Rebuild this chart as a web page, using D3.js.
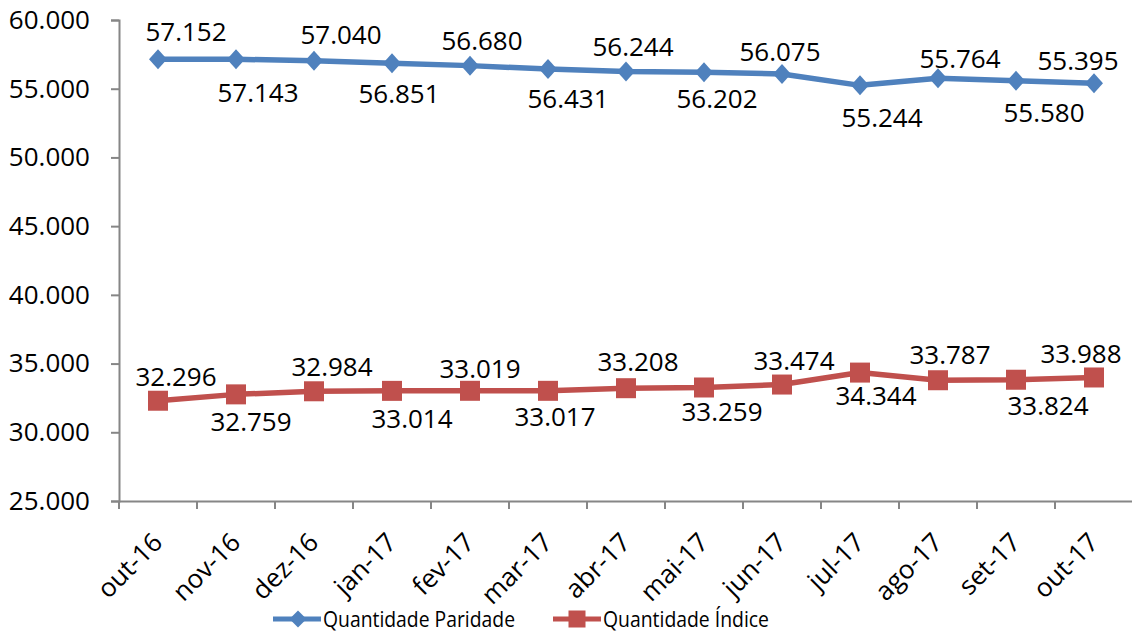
<!DOCTYPE html>
<html><head><meta charset="utf-8">
<script src="https://cdn.jsdelivr.net/npm/d3@7"></script>
<style>body{margin:0;background:#fff}svg{display:block}text{font-family:"Open Sans",sans-serif}</style>
</head><body>
<svg id="c" width="1132" height="636"></svg>
<script>
const categories = ["out-16","nov-16","dez-16","jan-17","fev-17","mar-17","abr-17","mai-17","jun-17","jul-17","ago-17","set-17","out-17"];
const paridade = [57152,57143,57040,56851,56680,56431,56244,56202,56075,55244,55764,55580,55395];
const indice = [32296,32759,32984,33014,33019,33017,33208,33259,33474,34344,33787,33824,33988];
const yTicks = [25000,30000,35000,40000,45000,50000,55000,60000];
const seriesNames = ["Quantidade Paridade","Quantidade Índice"];
const colors = ["#4F81BD","#C0504D"];

// layout: data label offsets (px) from each point, as placed in the original
const labelLayout = [
  {dx:[28,22,27,7,12,20,7,13,-2,22,22,28,-16], dy:[-18,43,-17,40,-16,39,-16,36,-13,42,-10,41,-13]},
  {dx:[18,15,18,20,10,7,12,18,12,16,12,32,-13], dy:[-15,37,-15,37,-13,35,-17,34,-15,32,-16,35,-14]}
];

const loc = d3.formatLocale({decimal:",",thousands:".",grouping:[3],currency:["R$",""]});
const fmt = loc.format(",.0f");

const svg = d3.select("#c");
const x = d3.scaleBand().domain(categories).range([119,1133]).padding(0);
const y = d3.scaleLinear().domain([25000,60000]).range([501,20]);
const axisColor = "#868686";
const fs = 26;

// y axis
const ya = svg.append("g").attr("transform","translate(119,0)")
  .call(d3.axisLeft(y).tickValues(yTicks).tickFormat(fmt).tickSize(8).tickPadding(21));
ya.select(".domain").attr("stroke",axisColor).attr("stroke-width",2);
ya.selectAll(".tick line").attr("stroke",axisColor).attr("stroke-width",2);
ya.selectAll(".tick text").attr("font-size",fs).attr("fill","#000").attr("font-family","Open Sans");

// x axis
const xa = svg.append("g").attr("transform","translate(0,501)")
  .call(d3.axisBottom(x).tickSize(0).tickFormat(d=>d));
xa.select(".domain").attr("stroke",axisColor).attr("stroke-width",2);
xa.selectAll(".tick line").remove();
xa.selectAll(".tick text").attr("font-size",fs).attr("fill","#000").attr("font-family","Open Sans")
  .attr("text-anchor","end").attr("dy",0).attr("y",0)
  .attr("transform","translate(6,43) rotate(-45)");
// x band boundary ticks
const bounds = categories.map(c=>x(c)).concat([x.range()[1]]);
svg.append("g").selectAll("line").data(bounds).join("line")
  .attr("x1",d=>d).attr("x2",d=>d).attr("y1",501).attr("y2",509)
  .attr("stroke",axisColor).attr("stroke-width",2);

const cx = c => x(c) + x.bandwidth()/2;
const data = [paridade, indice];

function diamond(g, px, py, col, w, h){
  g.append("path").attr("d",`M${px},${py-h}L${px+w},${py}L${px},${py+h}L${px-w},${py}Z`).attr("fill",col);
}
function square(g, px, py, col, s){
  g.append("rect").attr("x",px-s).attr("y",py-s).attr("width",2*s).attr("height",2*s).attr("fill",col);
}

data.forEach((vals,si)=>{
  const g = svg.append("g");
  const line = d3.line().x((d,i)=>cx(categories[i])).y(d=>y(d));
  g.append("path").datum(vals).attr("d",line).attr("fill","none")
    .attr("stroke",colors[si]).attr("stroke-width",5.5).attr("stroke-linejoin","round");
  vals.forEach((v,i)=>{
    const px = cx(categories[i]), py = y(v);
    if(si===0) diamond(g,px,py,colors[si],9,10); else square(g,px,py,colors[si],10);
  });
  const L = labelLayout[si];
  g.selectAll("text").data(vals).join("text")
    .attr("x",(d,i)=>cx(categories[i]) + L.dx[i])
    .attr("y",(d,i)=>y(d) + L.dy[i])
    .attr("text-anchor","middle").attr("font-size",fs).attr("fill","#000")
    .text(d=>fmt(d));
});

// legend
const lg = svg.append("g");
const legendItems = [{x:273,name:seriesNames[0],col:colors[0],m:"d",w:192},{x:553,name:seriesNames[1],col:colors[1],m:"s",w:166}];
legendItems.forEach(it=>{
  lg.append("line").attr("x1",it.x).attr("x2",it.x+48).attr("y1",619).attr("y2",619)
    .attr("stroke",it.col).attr("stroke-width",5);
  if(it.m==="d") diamond(lg,it.x+25,619,it.col,8.5,8.5); else square(lg,it.x+24,619,it.col,8.5);
  lg.append("text").attr("x",it.x+50).attr("y",627).attr("font-size",21.5).attr("fill","#000")
    .attr("textLength",it.w).attr("lengthAdjust","spacingAndGlyphs").text(it.name);
});
</script>
</body></html>
